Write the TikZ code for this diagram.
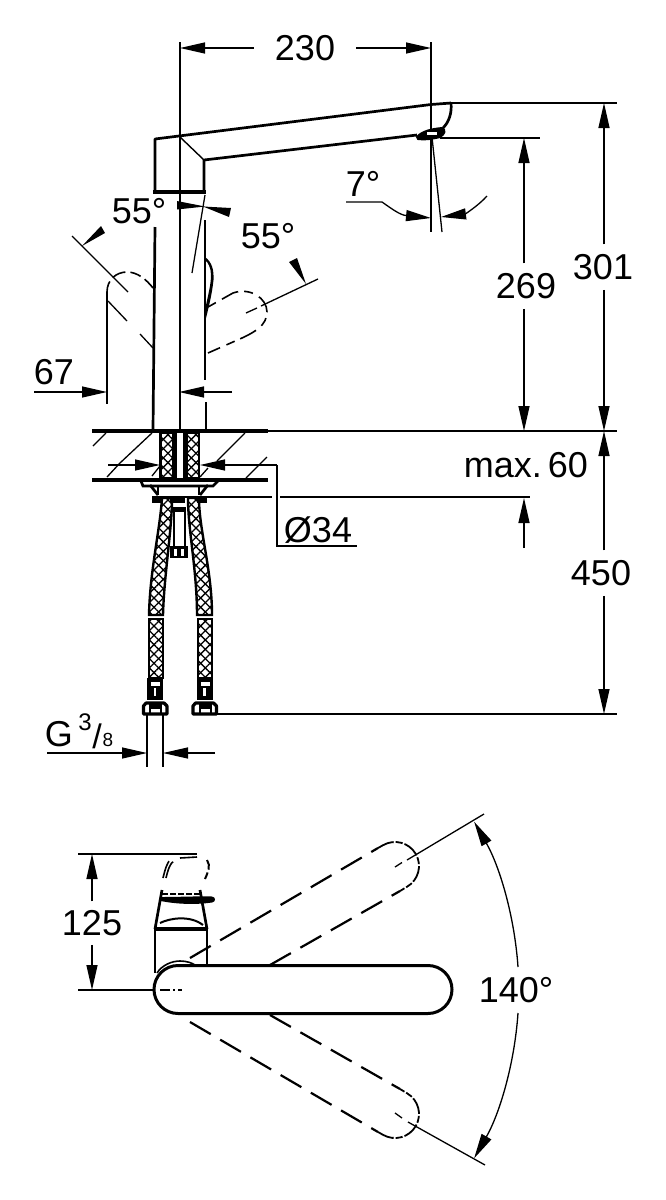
\documentclass[tikz,border=0pt]{standalone}
\usepackage{fontspec}
\setmainfont{Liberation Sans}
\usetikzlibrary{arrows.meta,patterns.meta}
\tikzset{
  dimtxt/.style={inner sep=0pt,font=\fontsize{36}{36}\selectfont},
  dimline/.style={line width=1.3pt},
  outline/.style={line width=2.7pt},
  heavy/.style={line width=3.6pt},
  ghost/.style={line width=2.2pt,dash pattern=on 24pt off 11pt},
  ghostend/.style={line width=1.8pt,dash pattern=on 17pt off 2pt on 7pt off 2pt},
  hoseedge/.style={line width=2.4pt}
}
\newcommand{\braid}[1]{%
  \path[pattern={Lines[angle=45,distance=6.6pt,line width=1.3pt]}] #1;
  \path[pattern={Lines[angle=-45,distance=6.6pt,line width=1.3pt]}] #1;
  \draw[hoseedge] #1;}
\begin{document}
\begin{tikzpicture}[x=1pt,y=-1pt,>={Triangle[length=25pt,width=11pt]}]
\useasboundingbox (0,0) rectangle (665,1200);
% text
\draw (305,48) node[dimtxt,outer xsep=21pt] (w230) {230};
\draw (526,286) node[dimtxt,outer ysep=10pt] (h269) {269};
\draw (603,267) node[dimtxt,outer ysep=10pt] (h301) {301};
\draw (601,573) node[dimtxt,outer ysep=10pt] (h450) {450};
\draw (139,211) node[dimtxt] (angL) {55°};
\draw (268,236) node[dimtxt] (angR) {55°};
\draw (54,372) node[dimtxt] (w67) {67};
\draw (363,184) node[dimtxt] (ang7) {7°};
\draw (526,465) node[dimtxt] (max60) {max.\,60};
\draw (318,530) node[dimtxt] (dia34) {Ø34};
\draw (59,734) node[dimtxt] (gG) {G};
\draw (85,722) node[inner sep=0pt,font=\fontsize{24}{24}\selectfont] (g3) {3};
\draw (97,736) node[inner sep=0pt,font=\fontsize{34}{34}\selectfont] (gs) {/};
\draw (108,740) node[inner sep=0pt,font=\fontsize{19}{19}\selectfont] (g8) {8};
\draw (92,923) node[dimtxt,outer ysep=9pt] (h125) {125};
\draw (516,990) node[dimtxt] (a140) {140°};
% axes and extension lines
\draw[dimline] (180,42) -- (180,431);
\draw[dimline] (431,42) -- (431,232);
\draw[dimline] (432,137) -- (442,232);
\draw[dimline] (450,103) -- (617,103);
\draw[dimline] (440,138) -- (540,138);
\draw[dimline] (268,431) -- (617,431);
\draw[dimline] (207,497) -- (272,497) (280,497) -- (530,497);
\draw[dimline] (215,714) -- (617,714);
% main dimensions
\coordinate (w230a) at (180,48);
\coordinate (w230b) at (431,48);
\draw[dimline,->] (w230.west) -- (w230a);
\draw[dimline,->] (w230.east) -- (w230b);
\coordinate (h269a) at (524,138);
\coordinate (h269b) at (524,431);
\draw[dimline,->] (h269a |- h269.north) -- (h269a);
\draw[dimline,->] (h269a |- h269.south) -- (h269b);
\coordinate (h301a) at (604,103);
\coordinate (h301b) at (604,431);
\draw[dimline,->] (h301a |- h301.north) -- (h301a);
\draw[dimline,->] (h301a |- h301.south) -- (h301b);
\coordinate (h450b) at (604,714);
\draw[dimline,->] (h301b |- h450.north) -- (h301b);
\draw[dimline,->] (h301b |- h450.south) -- (h450b);
\coordinate (m60a) at (524,548);
\coordinate (m60b) at (524,498);
\draw[dimline,->] (m60a) -- (m60b);
% spout and body
\draw[outline,line join=round] (155,192) -- (155,139) -- (431,104.5) -- (451,103);
\draw[outline,line join=round] (204,192) -- (204,160) -- (417,135);
\draw[line width=1.4pt] (180,137) -- (204,160);
\draw[heavy] (153,192) -- (206,192);
\draw[outline] (451,103) .. controls (452,113) and (449,122) .. (443,128);
\draw[line width=2pt,fill=black] (417,137) .. controls (422,131) and (432,129) .. (442,128) .. controls (446,130) and (445,134) .. (440,137) .. controls (432,139) and (424,140) .. (418,139) -- cycle;
\fill[white] (427,132) rectangle (437,135);
\draw[outline] (155,227) -- (153,430);
\draw[outline] (205,220) -- (205,380) (206,402) -- (206,430);
\draw[dimline] (205,195) -- (192,273);
\fill (205,257) .. controls (212,262) and (214,270) .. (213.5,280) .. controls (212,295) and (208,310) .. (205,322) -- (205,310) .. controls (208,295) and (211,285) .. (211,275) .. controls (211,268) and (208,262) .. (205,260) -- cycle;
% handle, raised positions
\draw[line width=1.6pt,dash pattern=on 11pt off 5pt on 14pt off 5pt] (107,292) .. controls (107,280) and (116,272) .. (127,272) .. controls (137,272) and (146,279) .. (153,288);
\draw[dimline] (72,236) -- (128,292);
\draw[dimline] (108,301) -- (127,321) (140,334) -- (153,348);
\draw[dimline] (107,292) -- (107,404);
\draw[line width=1.6pt,dash pattern=on 9pt off 7pt on 18pt off 6pt] (208,307) -- (233,293) .. controls (250,287) and (267,298) .. (267,312) .. controls (267,325) and (255,332) .. (242,338) -- (208,353);
\draw[dimline] (246,313) -- (257,308) (261,306) -- (318,279);
% angle arrows
\path[fill=black] (177,201) -- (205,206.5) -- (177,209.5) -- cycle;
\path[fill=black] (231,208) -- (203,206.5) -- (229,217) -- cycle;
\path[fill=black] (101,226) -- (105,233) -- (82,246) -- cycle;
\path[fill=black] (289,262) -- (297,258) -- (306,284) -- cycle;
% 67
\coordinate (w67a) at (107,392);
\coordinate (w67b) at (179,392);
\draw[dimline,->] (34,392) -- (w67a);
\draw[dimline,->] (232,392) -- (w67b);
% 7 degrees
\draw[dimline,->] (346,202) -- (382,202) .. controls (392,209) and (400,215) .. (431,218);
\draw[dimline,->] (487,196) .. controls (478,206) and (465,214) .. (441,217);
% worktop
\draw[heavy] (92,431) -- (268,431);
\draw[heavy] (92,480) -- (268,480);
\draw[dimline] (93,446) -- (106,433) (120,463) -- (152,433) (107,477) -- (120,463) (152,476) -- (160,466);
\draw[dimline] (217,461) -- (245,433) (200,477) -- (208,468) (246,478) -- (267,457);
% hoses in the hole
\braid{(160.5,433) rectangle (173,478)}
\braid{(187,433) rectangle (199,478)}
\fill (173,433) rectangle (177,478);
\fill (183,433) rectangle (187,478);
% 34
\coordinate (d34a) at (160,465);
\coordinate (d34b) at (200,465);
\draw[dimline,->] (108,465) -- (d34a);
\draw[dimline,->] (277,465) -- (d34b);
\draw[dimline] (277,465) -- (277,546) -- (357,546);
% fixing under the top
\draw[outline] (141,481) -- (143,486) -- (213,486) -- (218,481);
\draw[outline] (150,485) -- (158,495) (208,485) -- (200,495);
\draw[dimline] (158,486) -- (158,495) (199,486) -- (199,495);
\fill (152,496) rectangle (162,503);
\fill (197,496) rectangle (207,503);
\draw[outline] (152,497) -- (207,497);
\fill (170,498) rectangle (185,503);
\draw[outline] (174,507) -- (174,548) (185,507) -- (185,548);
\fill (174,507) rectangle (185,512);
\fill (170,546) rectangle (188,558);
\fill[white] (174,549) rectangle (177,556);
\fill[white] (181,549) rectangle (184,556);
% hoses below
\braid{(162,498) .. controls (160,530) and (150,570) .. (149,615) -- (163,615) .. controls (164,575) and (172,530) .. (172,498) -- cycle}
\braid{(188,498) .. controls (188,530) and (197,570) .. (197,615) -- (212,615) .. controls (212,570) and (199,530) .. (199,498) -- cycle}
\braid{(149,619) rectangle (163,678)}
\braid{(198,619) rectangle (212,678)}
\foreach \dx in {0,49.5}{
  \begin{scope}[xshift=\dx pt]
  \fill (147,678) rectangle (163,700);
  \fill[white] (151,682) rectangle (160,686);
  \fill[white] (153.5,688) rectangle (156,696);
  \draw[line width=3.2pt,line join=round] (143.5,714) -- (143.5,706) -- (146,703) -- (164,703) -- (167,706) -- (167,714) -- cycle;
  \draw[line width=2pt] (150,703) -- (150,714) (161,703) -- (161,714);
  \fill (150,703) rectangle (161,709);
  \end{scope}
}
% G 3/8
\coordinate (g38a) at (147,753);
\coordinate (g38b) at (163,753);
\draw[dimline] (147,714) -- (147,767) (163,714) -- (163,767);
\draw[dimline,->] (47,753) -- (g38a);
\draw[dimline,->] (215,753) -- (g38b);
% lower view
\draw[dimline] (78,854) -- (197,854);
\draw[dimline] (78,990) -- (153,990);
\coordinate (h125a) at (92,854);
\coordinate (h125b) at (92,990);
\draw[dimline,->] (h125a |- h125.north) -- (h125a);
\draw[dimline,->] (h125a |- h125.south) -- (h125b);
\draw[line width=1.6pt,dash pattern=on 18pt off 4pt] (163,878) .. controls (165,870) and (167,862) .. (171,859) (180,858) -- (197,857);
\draw[line width=1.6pt,dash pattern=on 18pt off 4pt] (166,878) .. controls (168,870) and (170,863) .. (174,861);
\draw[line width=2pt,dash pattern=on 10pt off 3pt] (207,860) .. controls (211,866) and (208,872) .. (205,879);
\draw[outline] (162,890) -- (155,929) (200,890) -- (207,929);
\draw[heavy] (155,929) -- (207,929);
\fill (161,897) .. controls (180,897) and (200,896) .. (212,896.5) .. controls (216,897) and (216,902) .. (212,902.5) .. controls (195,905) and (175,904) .. (161,901) -- cycle;
\draw[line width=1.4pt,dash pattern=on 6pt off 2pt] (162,894) -- (200,894);
\draw[line width=2pt] (160,923) .. controls (170,918) and (190,915) .. (203,925);
\draw[outline] (155,929) -- (155,973);
\draw[outline] (207,929) -- (207,965);
\draw[line width=1.6pt] (157,973) .. controls (162,965) and (172,961) .. (180,961) .. controls (187,961) and (192,963) .. (195,965);
% handle
\draw[line width=3pt,fill=white] (178,965.5) -- (428,965.5) arc[start angle=90,end angle=-90,radius=24pt] -- (178,1013.5) arc[start angle=270,end angle=90,radius=24pt] -- cycle;
\draw[dimline] (160,990) -- (170,990) (173,990) -- (175,990) (178,990) -- (182,990);
% swung positions
\draw[ghost] (190,958) -- (378,848);
\draw[ghost] (270,965) -- (400,891);
\draw[ghostend] (378,848) -- (383,845.2) arc[start angle=120,end angle=-60,radius=24pt] -- (400,891);
\draw[ghost] (190,1022) -- (378,1132);
\draw[ghost] (270,1015) -- (400,1089);
\draw[ghostend] (378,1132) -- (383,1134.8) arc[start angle=-120,end angle=60,radius=24pt] -- (400,1089);
\draw[dimline] (395,867) -- (402,862.5) (407,860) -- (484,814);
\draw[dimline] (395,1113) -- (402,1118) (408,1122) -- (485,1165);
% 140 degrees
\draw[dimline,->] (518,967) arc[start angle=3.9,end angle=29.7,radius=340pt];
\draw[dimline,->] (518,1013) arc[start angle=-3.9,end angle=-29.7,radius=340pt];
\end{tikzpicture}
\end{document}
